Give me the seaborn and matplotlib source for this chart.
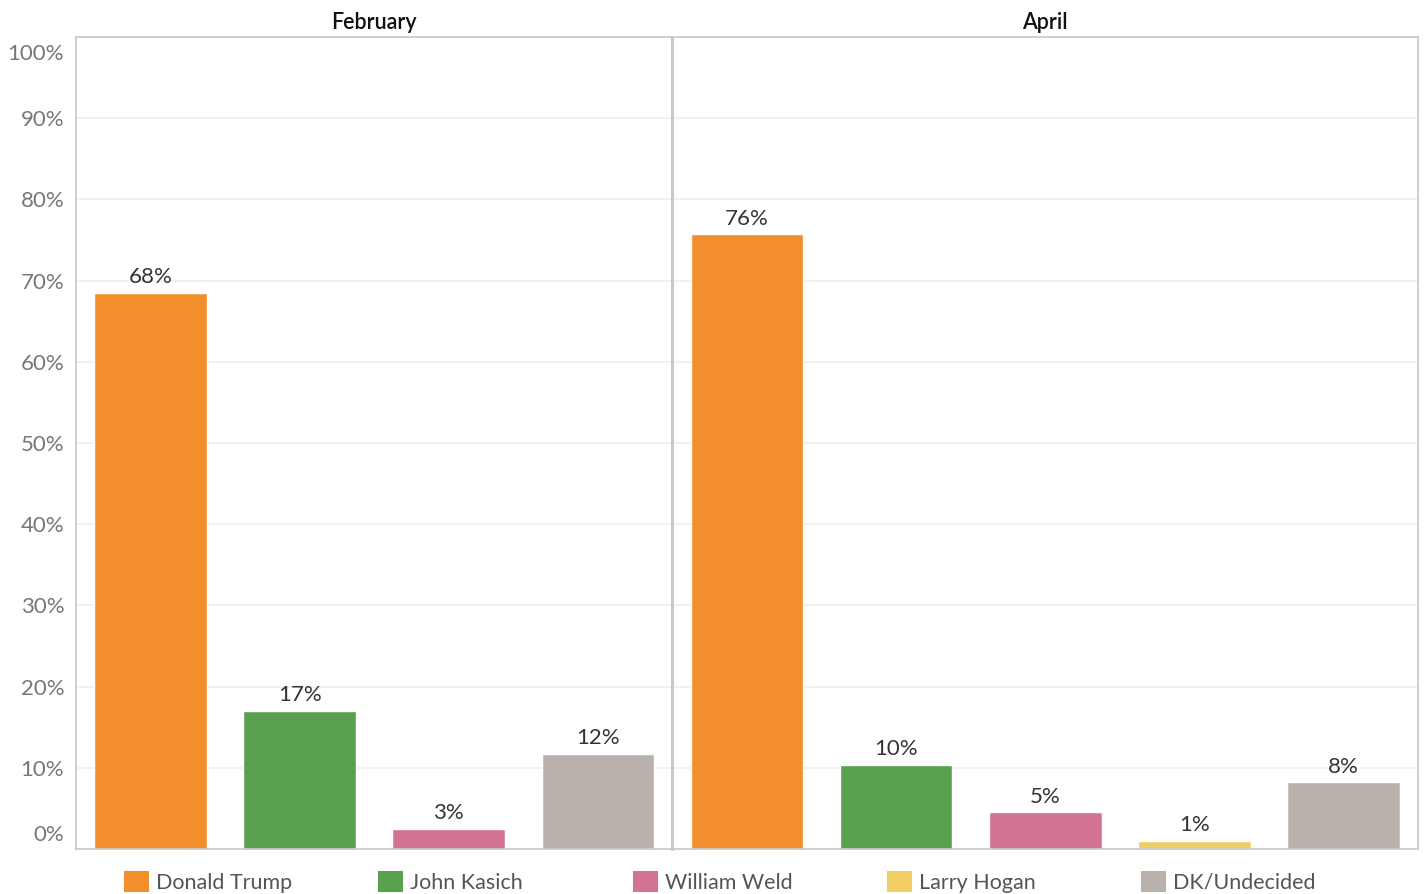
import matplotlib
matplotlib.use("Agg")
import matplotlib.pyplot as plt
import matplotlib.transforms as mtrans
import seaborn as sns
import pandas as pd
from matplotlib.patches import Patch

# ---- data ----
candidates = ["Donald Trump", "John Kasich", "William Weld", "Larry Hogan", "DK/Undecided"]
colors = ["#F28E2B", "#59A14F", "#D37295", "#F1CE63", "#BAB0AC"]
feb_candidates = ["Donald Trump", "John Kasich", "William Weld", "DK/Undecided"]
feb_values = [68.5, 17.0, 2.5, 11.7]
apr_candidates = ["Donald Trump", "John Kasich", "William Weld", "Larry Hogan", "DK/Undecided"]
apr_values = [75.7, 10.4, 4.5, 1.0, 8.2]
feb_labels = ["68%", "17%", "3%", "12%"]
apr_labels = ["76%", "10%", "5%", "1%", "8%"]
panel_titles = ["February", "April"]
yticks = [0, 10, 20, 30, 40, 50, 60, 70, 80, 90, 100]
ytick_labels = [f"{v}%" for v in yticks]

sns.set_theme(style="white")
plt.rcParams["font.family"] = ["Lato", "DejaVu Sans"]

palette = dict(zip(candidates, colors))
W, H = 1426, 894
fig = plt.figure(figsize=(W / 100, H / 100), dpi=100)
gs = fig.add_gridspec(1, 2, width_ratios=[4, 5], wspace=0,
                      left=76 / W, right=1418 / W, top=1 - 37 / H, bottom=1 - 849 / H)
axes = [fig.add_subplot(gs[0, 0]), fig.add_subplot(gs[0, 1])]

panels = [(feb_candidates, feb_values, feb_labels), (apr_candidates, apr_values, apr_labels)]
edge = "#c8c8c8"
for i, (ax, (cats, vals, labs)) in enumerate(zip(axes, panels)):
    df = pd.DataFrame({"candidate": cats, "value": vals})
    sns.barplot(data=df, x="candidate", y="value", hue="candidate", order=cats,
                palette=palette, width=0.755, dodge=False, legend=False, ax=ax,
                saturation=1)
    for j, (v, lab) in enumerate(zip(vals, labs)):
        ax.annotate(lab, (j, v), xytext=(0, 4), textcoords="offset points",
                    ha="center", va="bottom", fontsize=16, color="#333333")
    ax.set_xlim(-0.5, len(cats) - 0.5)
    ax.set_ylim(0, 100)
    ax.set_xlabel("")
    ax.set_ylabel("")
    ax.set_xticks([])
    for y in yticks[1:-1]:
        ax.axhline(y, color="#efefef", lw=1.2, zorder=0)
    for s in ax.spines.values():
        s.set_color(edge)
        s.set_linewidth(1.2)
    ax.set_title(panel_titles[i], fontsize=15.5, fontweight="semibold", color="#111111", pad=6)
    ax.set_yticks(yticks)
    if i == 0:
        ax.set_yticklabels(ytick_labels, fontsize=16, color="#777777")
        ax.tick_params(axis="y", length=0, pad=8.5)
        tl = ax.get_yticklabels()
        tl[0].set_va("bottom")
        tl[0].set_transform(tl[0].get_transform() + mtrans.ScaledTranslation(0, 4 / 100, fig.dpi_scale_trans))
        tl[-1].set_va("top")
        tl[-1].set_transform(tl[-1].get_transform() + mtrans.ScaledTranslation(0, -7 / 100, fig.dpi_scale_trans))
    else:
        ax.tick_params(axis="y", length=0, labelleft=False)
        ax.spines["left"].set_linewidth(2)

# ---- legend ----
leg_x = [124, 378, 633, 887, 1141]
for name, col, x in zip(candidates, colors, leg_x):
    leg = fig.legend(handles=[Patch(facecolor=col, edgecolor="none")], labels=[name],
                     loc="center left", bbox_to_anchor=(x / W, 1 - 882 / H),
                     frameon=False, fontsize=15.5, handlelength=1.15, handleheight=1.15,
                     handletextpad=0.35, borderaxespad=0, borderpad=0)
    for t in leg.get_texts():
        t.set_color("#555555")

fig.savefig("out.png", dpi=100)
